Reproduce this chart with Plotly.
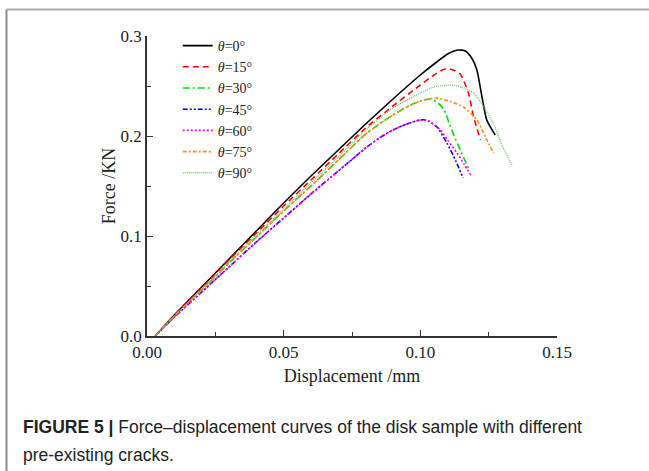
import plotly.graph_objects as go

# ---- data ----
labels = ["<i>θ</i>=0°", "<i>θ</i>=15°", "<i>θ</i>=30°", "<i>θ</i>=45°",
          "<i>θ</i>=60°", "<i>θ</i>=75°", "<i>θ</i>=90°"]

d0 = [0.003, 0.01, 0.02, 0.03, 0.04, 0.05, 0.06, 0.07, 0.08, 0.09, 0.10, 0.106, 0.110, 0.1137, 0.1165, 0.119, 0.1207, 0.1225, 0.1243, 0.1274]
f0 = [0.0, 0.021, 0.049, 0.077, 0.105, 0.133, 0.160, 0.186, 0.212, 0.237, 0.261, 0.274, 0.282, 0.286, 0.285, 0.277, 0.266, 0.240, 0.216, 0.201]

d15 = [0.003, 0.01, 0.02, 0.03, 0.04, 0.05, 0.06, 0.07, 0.08, 0.09, 0.10, 0.105, 0.109, 0.112, 0.1146, 0.1176, 0.1195, 0.122]
f15 = [0.0, 0.021, 0.048, 0.076, 0.103, 0.130, 0.156, 0.182, 0.208, 0.230, 0.251, 0.261, 0.267, 0.266, 0.262, 0.243, 0.219, 0.196]

d30 = [0.003, 0.01, 0.02, 0.03, 0.04, 0.05, 0.06, 0.07, 0.08, 0.085, 0.09, 0.095, 0.10, 0.1036, 0.106, 0.1085, 0.1115, 0.1146, 0.1176]
f30 = [0.0, 0.020, 0.046, 0.073, 0.099, 0.125, 0.150, 0.176, 0.202, 0.212, 0.221, 0.229, 0.235, 0.237, 0.234, 0.227, 0.206, 0.186, 0.168]

d45 = [0.003, 0.01, 0.02, 0.03, 0.04, 0.05, 0.06, 0.07, 0.08, 0.085, 0.09, 0.095, 0.0999, 0.102, 0.1061, 0.1097, 0.113, 0.1156]
f45 = [0.0, 0.019, 0.044, 0.069, 0.094, 0.118, 0.142, 0.165, 0.188, 0.198, 0.206, 0.212, 0.216, 0.216, 0.209, 0.193, 0.175, 0.158]

d60 = [0.003, 0.01, 0.02, 0.03, 0.04, 0.05, 0.06, 0.07, 0.08, 0.085, 0.09, 0.095, 0.100, 0.103, 0.1073, 0.110, 0.1134, 0.116, 0.1186]
f60 = [0.0, 0.019, 0.044, 0.069, 0.094, 0.118, 0.142, 0.165, 0.188, 0.198, 0.206, 0.212, 0.216, 0.215, 0.206, 0.196, 0.183, 0.172, 0.160]

d75 = [0.003, 0.01, 0.02, 0.03, 0.04, 0.05, 0.06, 0.07, 0.08, 0.085, 0.09, 0.095, 0.10, 0.1054, 0.1104, 0.1158, 0.1207, 0.124, 0.1268]
f75 = [0.0, 0.020, 0.046, 0.073, 0.099, 0.125, 0.150, 0.176, 0.202, 0.212, 0.221, 0.229, 0.235, 0.238, 0.235, 0.229, 0.216, 0.198, 0.183]

d90 = [0.003, 0.01, 0.02, 0.03, 0.04, 0.05, 0.06, 0.07, 0.08, 0.09, 0.10, 0.105, 0.1109, 0.115, 0.1195, 0.123, 0.1268, 0.130, 0.1335]
f90 = [0.0, 0.020, 0.047, 0.074, 0.101, 0.127, 0.153, 0.179, 0.206, 0.228, 0.243, 0.249, 0.251, 0.249, 0.243, 0.230, 0.212, 0.190, 0.171]

xs = [d0, d15, d30, d45, d60, d75, d90]
ys = [f0, f15, f30, f45, f60, f75, f90]
colors = ["#000000", "#ff0000", "#00dd00", "#0000ff", "#ff00ff", "#ff8c1a", "#66bb66"]
dashes = ["solid", "6px,4px", "7px,3px,2px,3px", "5px,2px,2px,2px,2px,2px", "2px,2px", "4px,2px,2px,2px", "1px,1px"]
widths = [1.6, 1.6, 1.6, 1.6, 1.6, 1.6, 1.2]

x_ticks = [0.00, 0.05, 0.10, 0.15]
y_ticks = [0.0, 0.1, 0.2, 0.3]

fig = go.Figure()
for x, y, name, c, dsh, w in zip(xs, ys, labels, colors, dashes, widths):
    fig.add_trace(go.Scatter(x=x, y=y, mode="lines", name=name,
                             line=dict(color=c, dash=dsh, width=w, shape="spline", smoothing=0.6)))

serif = "Liberation Serif, Times New Roman, serif"
sans = "Liberation Sans, Arial, sans-serif"

fig.update_layout(
    width=649, height=471,
    margin=dict(l=147, r=92, t=36, b=135),
    paper_bgcolor="white", plot_bgcolor="white",
    font=dict(family=serif, size=15, color="#222"),
    showlegend=True,
    legend=dict(x=0.075, y=1.02, xanchor="left", yanchor="top",
                bgcolor="rgba(0,0,0,0)", font=dict(family=serif, size=14, color="#222"),
                tracegroupgap=0, itemwidth=30),
    xaxis=dict(range=[0, 0.15], tickvals=x_ticks, ticktext=[f"{v:.2f}" for v in x_ticks],
               showgrid=False, zeroline=False, showline=True, linecolor="#333", linewidth=1.5,
               ticks="inside", ticklen=6, tickcolor="#333", tickwidth=1.2,
               minor=dict(ticks="inside", dtick=0.025, ticklen=4, tickcolor="#333", tickwidth=1.2),
               title=dict(text="Displacement /mm", font=dict(family=serif, size=18, color="#222"), standoff=8),
               tickfont=dict(family=serif, size=17, color="#222")),
    yaxis=dict(range=[0, 0.3], tickvals=y_ticks, ticktext=[f"{v:.1f}" for v in y_ticks],
               showgrid=False, zeroline=False, showline=True, linecolor="#333", linewidth=1.5,
               ticks="inside", ticklen=6, tickcolor="#333", tickwidth=1.2,
               minor=dict(ticks="inside", dtick=0.05, ticklen=4, tickcolor="#333", tickwidth=1.2),
               title=dict(text="Force /KN", font=dict(family=serif, size=18, color="#222"), standoff=0),
               tickfont=dict(family=serif, size=17, color="#222")),
)

# figure frame (left and top border)
fig.add_shape(type="line", xref="paper", yref="paper", x0=-0.3427, x1=-0.3427, y0=1.0883, y1=-0.46,
              line=dict(color="#8a8a8a", width=2))
fig.add_shape(type="line", xref="paper", yref="paper", x0=-0.3427, x1=1.25, y0=1.0883, y1=1.0883,
              line=dict(color="#aaaaaa", width=2))

# caption
fig.add_annotation(xref="paper", yref="paper", x=(21 - 147) / 410, y=(336 - 427) / 300,
                   xanchor="left", yanchor="middle", showarrow=False, align="left",
                   text="<b>FIGURE 5 |</b> Force–displacement curves of the disk sample with different",
                   font=dict(family=sans, size=17.5, color="#222"))
fig.add_annotation(xref="paper", yref="paper", x=(21 - 147) / 410, y=(336 - 455) / 300,
                   xanchor="left", yanchor="middle", showarrow=False, align="left",
                   text="pre-existing cracks.",
                   font=dict(family=sans, size=17.5, color="#222"))

fig.write_html("out.html", config={"displayModeBar": False},
               post_script="document.body.style.margin='0';document.body.style.overflow='hidden';")
